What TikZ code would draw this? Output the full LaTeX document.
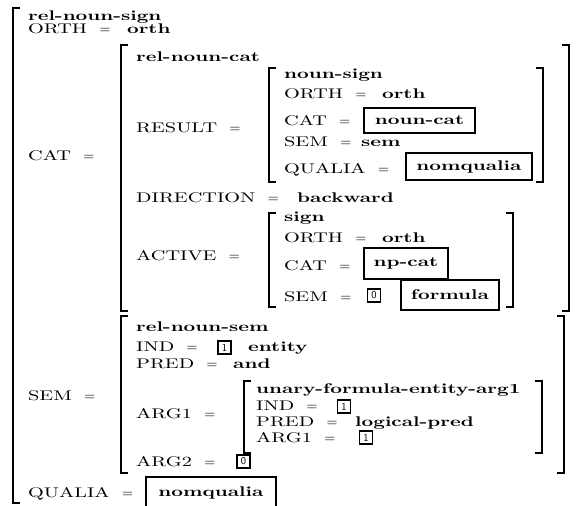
\documentclass[tikz,border=0pt]{standalone}
\usepackage{graphicx}
\usepackage{fontspec}
\newfontfamily\avmrm{lmroman10-regular.otf}
\newfontfamily\avmbf{lmroman10-bold.otf}[FakeStretch=1.45]
\newfontfamily\avmsf{lmsans10-regular.otf}
% attribute names are set wide
\newcommand\wide[1]{\scalebox{1.45}[1]{#1}}
\tikzset{
  avm/.style={font=\fontsize{14}{16}\avmrm, inner sep=0pt, anchor=base west},
  attr/.style={avm},
  eq/.style={avm},
  typ/.style={avm, font=\fontsize{14}{16}\avmbf},
  val/.style={typ},
  brk/.style={line width=1.6pt},
  valbox/.style={draw, line width=1.8pt, inner sep=0pt, font=\fontsize{14}{16}\avmbf},
  tag/.style={draw, line width=1.6pt, inner sep=0pt, minimum size=13pt, font=\fontsize{10.5}{10.5}\avmsf},
}
% left and right square brackets: x, top, bottom
\newcommand\avmlb[3]{\draw[brk] (#1+7,#2) -- (#1,#2) -- (#1,#3) -- (#1+7,#3);}
\newcommand\avmrb[3]{\draw[brk] (#1-7,#2) -- (#1,#2) -- (#1,#3) -- (#1-7,#3);}
% an "=" set a fixed gap after the attribute name
\newcommand\avmeq[2]{\node[eq] (#1) at ([xshift=12pt]#2.base east) {=};}
\begin{document}
\begin{tikzpicture}[x=1pt,y=-1pt]
\clip (0,0) rectangle (582,506);
\fill[white] (0,0) rectangle (582,506);

% outer matrix
\avmlb{13}{8}{503}
\node[typ]  (t0)  at (28,20)  {rel-noun-sign};
\node[attr] (a0)  at (28,34)  {\wide{ORTH}};
\avmeq{e0}{a0}
\node[val]  (v0)  at (127,34) {orth};
\node[attr] (a1)  at (28,160) {\wide{CAT}};
\avmeq{e1}{a1}
\node[attr] (a2)  at (28,400) {\wide{SEM}};
\avmeq{e2}{a2}
\node[attr] (a3)  at (28,497) {\wide{QUALIA}};
\avmeq{e3}{a3}
\node[valbox, minimum width=130pt, minimum height=32pt] (b3) at (211,493) {nomqualia};

% CAT value
\avmlb{121}{45}{311}
\avmrb{569}{45}{311}
\node[typ]  (tc)  at (136,61)  {rel-noun-cat};
\node[attr] (ac1) at (136,132) {\wide{RESULT}};
\avmeq{ec1}{ac1}
\node[attr] (ac2) at (136,202) {\wide{DIRECTION}};
\avmeq{ec2}{ac2}
\node[val]  (vc2) at (297,202) {backward};
\node[attr] (ac3) at (136,260) {\wide{ACTIVE}};
\avmeq{ec3}{ac3}

% RESULT value
\avmlb{269}{68}{182}
\avmrb{543}{68}{182}
\node[typ]  (tr)  at (284,78)  {noun-sign};
\node[attr] (ar1) at (284,98)  {\wide{ORTH}};
\avmeq{er1}{ar1}
\node[val]  (vr1) at (382,98)  {orth};
\node[attr] (ar2) at (284,125) {\wide{CAT}};
\avmeq{er2}{ar2}
\node[valbox, minimum width=111pt, minimum height=25pt] (br2) at (419.5,120.5) {noun-cat};
\node[attr] (ar3) at (284,146) {\wide{SEM}};
\avmeq{er3}{ar3}
\node[val]  (vr3) at (361,146) {sem};
\node[attr] (ar4) at (284,173) {\wide{QUALIA}};
\avmeq{er4}{ar4}
\node[valbox, minimum width=126pt, minimum height=27pt] (br4) at (469,166.5) {nomqualia};

% ACTIVE value
\avmlb{269}{213}{307}
\avmrb{513}{213}{307}
\node[typ]  (ts)  at (284,221) {sign};
\node[attr] (as1) at (284,242) {\wide{ORTH}};
\avmeq{es1}{as1}
\node[val]  (vs1) at (382,242) {orth};
\node[attr] (as2) at (284,270) {\wide{CAT}};
\avmeq{es2}{as2}
\node[valbox, minimum width=84pt, minimum height=31pt] (bs2) at (406,263.5) {np-cat};
\node[attr] (as3) at (284,301) {\wide{SEM}};
\avmeq{es3}{as3}
\node[tag]  (g0a) at (374,295.5) {0};
\node[valbox, minimum width=98pt, minimum height=30pt] (bs3) at (450,295) {formula};

% SEM value
\avmlb{121}{316}{473}
\avmrb{564}{316}{473}
\node[typ]  (tm)  at (136,331) {rel-noun-sem};
\node[attr] (am1) at (136,351) {\wide{IND}};
\avmeq{em1}{am1}
\node[tag]  (g1a) at (224.5,347.5) {1};
\node[val]  (vm1) at (248,351) {entity};
\node[attr] (am2) at (136,368) {\wide{PRED}};
\avmeq{em2}{am2}
\node[val]  (vm2) at (233,368) {and};
\node[attr] (am3) at (136,418) {\wide{ARG1}};
\avmeq{em3}{am3}
\node[attr] (am4) at (136,466) {\wide{ARG2}};
\avmeq{em4}{am4}
\node[tag]  (g0b) at (243.5,461.5) {0};

% ARG1 value
\avmlb{244}{381}{453}
\avmrb{542}{381}{453}
\node[typ]  (tu)  at (256,393) {unary-formula-entity-arg1};
\node[attr] (au1) at (256,410) {\wide{IND}};
\avmeq{eu1}{au1}
\node[tag]  (g1b) at (344,406.5) {1};
\node[attr] (au2) at (256,426) {\wide{PRED}};
\avmeq{eu2}{au2}
\node[val]  (vu2) at (355,426) {logical-pred};
\node[attr] (au3) at (256,442) {\wide{ARG1}};
\avmeq{eu3}{au3}
\node[tag]  (g1c) at (366,437.5) {1};
\end{tikzpicture}
\end{document}
